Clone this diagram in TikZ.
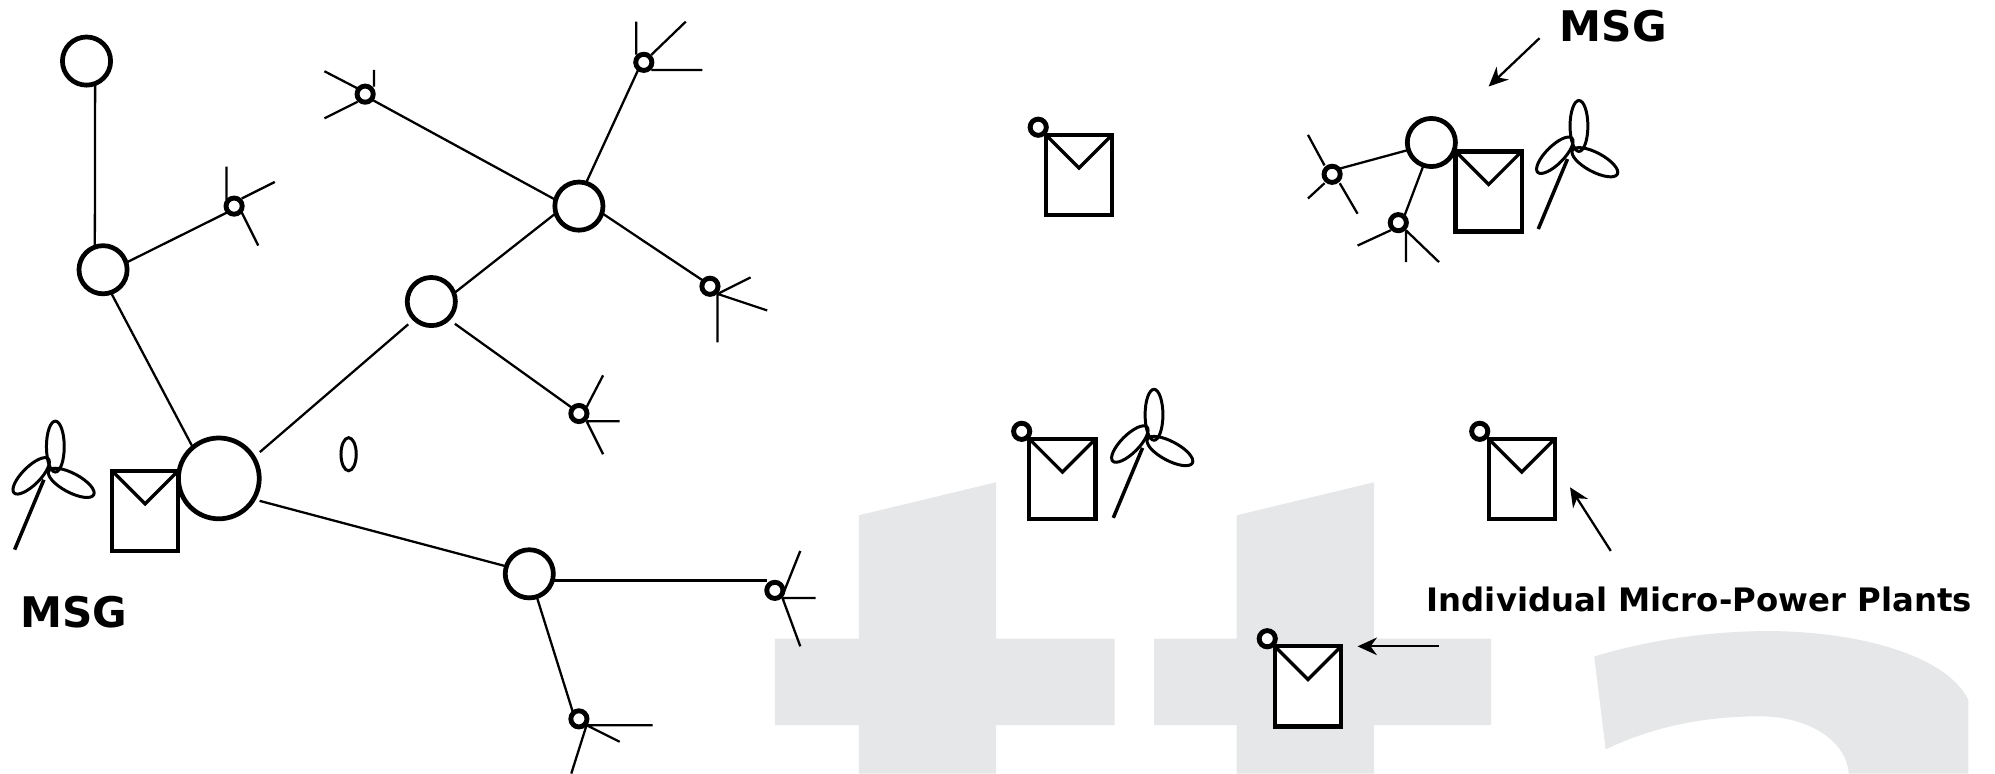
\documentclass[tikz,border=0pt]{standalone}
\usepackage{fontspec}
\setmainfont{DejaVu Sans}
\usepackage{xcolor}
\usetikzlibrary{arrows.meta,positioning}
\definecolor{MarkGray}{HTML}{E6E7E8}
\tikzset{
  hub/.style={circle,draw,fill=white,line width=1.35pt,minimum size=13.7pt,inner sep=0pt,outer sep=0pt},
  mainhub/.style={hub,minimum size=23pt},
  micro/.style={circle,draw,fill=white,line width=1.4pt,minimum size=4.6pt,inner sep=0pt,outer sep=0pt},
  link/.style={line width=0.65pt},
  arm/.style={line width=0.65pt},
  panel/.style={draw,fill=white,line width=1.2pt},
  vee/.style={line width=0.95pt},
  blade/.style={line width=0.85pt},
  mast/.style={line width=1pt},
  pointer/.style={-{Stealth[length=5.5pt,width=5pt]},line width=0.65pt},
  title/.style={font=\fontsize{12}{14}\bfseries,inner sep=0pt},
}

\begin{document}
\begin{tikzpicture}[x=0.012723cm,y=-0.01273cm]
  \clip (0,0) rectangle (1568,608);
  % background mark
  \fill[MarkGray] (675,405) -- (783,379) -- (783,502) -- (876,502) -- (876,570) -- (783,570) -- (783,608)
    -- (675,608) -- (675,570) -- (609,570) -- (609,502) -- (675,502) -- cycle;
  \fill[MarkGray] (972,405) -- (1080,379) -- (1080,502) -- (1172,502) -- (1172,570) -- (1080,570) -- (1080,608)
    -- (972,608) -- (972,570) -- (907,570) -- (907,502) -- (972,502) -- cycle;
  \fill[MarkGray] (1253,516) .. controls (1295,503) and (1345,496) .. (1389,496)
    .. controls (1460,496) and (1530,515) .. (1547,550) -- (1547,608) -- (1453,608)
    .. controls (1452,585) and (1425,563) .. (1383,563)
    .. controls (1335,563) and (1295,573) .. (1262,589) -- cycle;

  % solar panels
  \foreach \px/\py in {88/370,822/106,1144/119,809/345,1170/345,1002/508} {
    \draw[panel] (\px,\py) rectangle ++(52,63);
    \draw[vee] (\px,\py) -- ++(26,26) -- ++(26,-26);
  }
  % wind turbines
  \foreach \tx/\ty in {43.5/351,1241/99,907/326} {
    \draw[mast] (\tx,\ty) ++(-9,26) -- ++(-23,55);
    \draw[blade] (\tx,\ty) ellipse [x radius=7,y radius=20];
    \draw[blade,rotate around={45:(\tx-19,\ty+23)}] (\tx-19,\ty+23) ellipse [x radius=19,y radius=7];
    \draw[blade,rotate around={-28:(\tx+12.5,\ty+28.5)}] (\tx+12.5,\ty+28.5) ellipse [x radius=20,y radius=7.5];
  }
  \draw[blade] (274,357) ellipse [x radius=6,y radius=13];

  % distribution feeder
  \node[hub] (h1) at (68,48) {};
  \node[hub] (h2) at (81,212) {};
  \node[mainhub] (h3) at (172,376) {};
  \node[hub] (h4) at (339,237) {};
  \node[hub] (h5) at (455,162) {};
  \node[hub] (h6) at (416,451) {};
  \node[hub] (h7) at (1125,112) {};
  \node[micro] (m1) at (184,162) {};
  \node[micro] (m2) at (287,74) {};
  \node[micro] (m3) at (506,49) {};
  \node[micro] (m4) at (558,225) {};
  \node[micro] (m5) at (455,325) {};
  \node[micro] (m6) at (609,464) {};
  \node[micro] (m7) at (455,565) {};
  \node[micro] (m8) at (1047,137) {};
  \node[micro] (m9) at (1099,175) {};
  \node[micro] (p1) at (816,100) {};
  \node[micro] (p2) at (803,339) {};
  \node[micro] (p3) at (1163,339) {};
  \node[micro] (p4) at (996,502) {};

  \draw[link] (h1.-69) -- (h2.110);
  \draw[link] (h2.17) -- (m1.225);
  \draw[link] (h2.-71) -- (h3.130);
  \draw[link,shorten <=2.4pt,shorten >=2.4pt] (h3.31) -- (h4.226);
  \draw[link] (h4.20) -- (h5.197);
  \draw[link,shorten <=2.4pt] (h4.-46) -- (m5.140);
  \draw[link] (h5.73) -- (m3.231);
  \draw[link] (h5.-17) -- (m4.140);
  \draw[link] (h5.165) -- (m2.-40);
  \draw[link,shorten <=1.8pt] (h3.-31) -- (h6.162);
  \draw[link,line width=0.85pt] (h6.-17) -- (h6.-17 -| m6.west);
  \draw[link] (h6.-72) -- (m7.135);
  \draw[link] (h7.198) -- (m8.41);
  \draw[link] (h7.-109) -- (m9.45);

  \draw[arm] (m1) ++(-6,-5) -- +(0,-26) (m1) ++(6,-6) -- +(26,-13) (m1) ++(6,5) -- +(13,26);
  \draw[arm] (m2) ++(-5,-4) -- +(-27,-14) (m2) ++(7,-6) -- +(0,-13) (m2) ++(-6,6) -- +(-26,13);
  \draw[arm] (m3) ++(-6,-6) -- +(0,-26) (m3) ++(6,-6) -- +(27,-26) (m3) ++(6,6) -- +(40,0);
  \draw[arm] (m4) ++(6,6) -- +(26,-13) (m4) ++(6,6) -- +(39,13) (m4) ++(6,6) -- +(0,38);
  \draw[arm] (m5) ++(6,-5) -- +(13,-25) (m5) ++(6,6) -- +(26,0) (m5) ++(6,6) -- +(13,26);
  \draw[arm] (m6) ++(6,4) -- +(14,-35) (m6) ++(6,6) -- +(26,0) (m6) ++(6,6) -- +(14,38);
  \draw[arm] (m7) ++(6,5) -- +(52,0) (m7) ++(6,5) -- +(26,13) (m7) ++(6,5) -- +(-12,38);
  \draw[arm] (m8) ++(-6,-7) -- +(-13,-24) (m8) ++(-6,7) -- +(-13,12) (m8) ++(6,7) -- +(14,24);
  \draw[arm] (m9) ++(-6,6) -- +(-26,12) (m9) ++(6,6) -- +(0,25) (m9) ++(6,6) -- +(26,25);

  % labels
  \node[title] (msga) at (58,481.5) {MSG};
  \node[title] (msgb) at (1268,20.5) {MSG};
  \node[title,font=\fontsize{9.2}{11}\bfseries] (plants) at (1335.5,471) {Individual Micro-Power Plants};

  \coordinate (msgtail) at (1210,30);
  \coordinate (msgtip) at (1170,68);
  \coordinate (planta) at (1266,433);
  \coordinate (plantatip) at (1234,383);
  \coordinate (plantb) at (1131,508);
  \coordinate (plantbtip) at (1067,508);
  \draw[pointer] (msgtail) -- (msgtip);
  \draw[pointer] (planta) -- (plantatip);
  \draw[pointer] (plantb) -- (plantbtip);
\end{tikzpicture}
\end{document}
